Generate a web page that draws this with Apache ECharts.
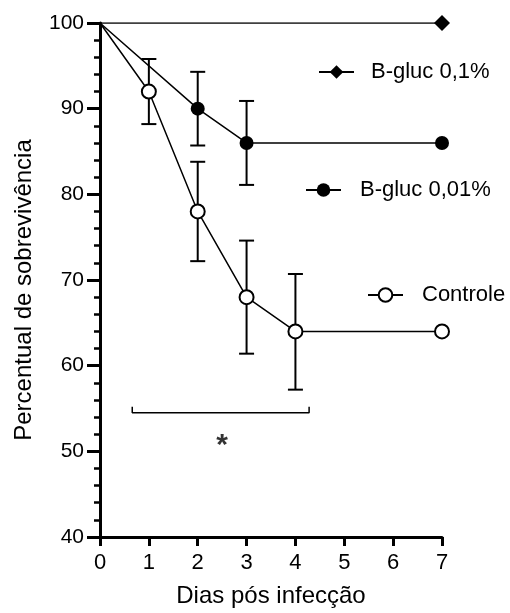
<!DOCTYPE html>
<html>
<head>
<meta charset="utf-8">
<script src="https://cdn.jsdelivr.net/npm/echarts@6/dist/echarts.min.js"></script>
<style>
  html, body { margin: 0; padding: 0; background: #fff; }
  #chart { width: 510px; height: 613px; }
</style>
</head>
<body>
<div id="chart"></div>
<script>
  'use strict';

  // Dias pós infecção
  const dias01 = [0, 7];
  const surv01 = [100, 100];

  const dias001 = [0, 2, 3, 7];
  const surv001 = [100, 90, 86, 86];
  const err001 = [[2, 85.7, 94.3], [3, 81.1, 90.9]];

  const diasCtrl = [0, 1, 2, 3, 4, 7];
  const survCtrl = [100, 92, 78, 68, 64, 64];
  const errCtrl = [[1, 88.2, 95.8], [2, 72.2, 83.8], [3, 61.4, 74.6], [4, 57.2, 70.7]];

  // significance bracket and star
  const bracketX = [0.66, 4.28];
  const bracketY = 54.5;
  const starPos = [2.5, 50.7];

  const FONT = "'Liberation Sans', Arial, sans-serif";
  const pairs = (xs, ys) => xs.map((x, i) => [x, ys[i]]);
  const hideFirst = (arr) => arr.map((p, i) => i === 0 ? { value: p, symbol: 'none' } : p);

  const chart = echarts.init(document.getElementById('chart'));

  function errorBar(params, api) {
    const x = api.value(0);
    const lo = api.coord([x, api.value(1)]);
    const hi = api.coord([x, api.value(2)]);
    const cap = 7.5;
    const style = { stroke: '#000', lineWidth: 2 };
    return {
      type: 'group',
      children: [
        { type: 'line', shape: { x1: lo[0], y1: lo[1], x2: hi[0], y2: hi[1] }, style },
        { type: 'line', shape: { x1: lo[0] - cap, y1: lo[1], x2: lo[0] + cap, y2: lo[1] }, style },
        { type: 'line', shape: { x1: hi[0] - cap, y1: hi[1], x2: hi[0] + cap, y2: hi[1] }, style }
      ]
    };
  }

  function legendAt(name, left, top, gap) {
    return {
      data: [name],
      left: left,
      top: top,
      itemWidth: 35,
      itemHeight: 17,
      textStyle: { fontFamily: FONT, fontSize: 22, color: '#000', padding: [0, 0, 0, gap] }
    };
  }

  const lineStyle = { color: '#000', width: 1.5 };

  chart.setOption({
    animation: false,
    backgroundColor: '#fff',
    grid: { left: 100, right: 68, top: 23, bottom: 75 },
    legend: [
      legendAt('B-gluc 0,1%', 313, 56, 12),
      legendAt('B-gluc 0,01%', 300, 174, 14),
      legendAt('Controle', 362, 279, 14)
    ],
    xAxis: {
      type: 'value',
      min: 0,
      max: 7,
      interval: 1,
      name: 'Dias pós infecção',
      nameLocation: 'middle',
      nameGap: 47,
      nameTextStyle: { fontFamily: FONT, fontSize: 24, color: '#000' },
      axisLine: { onZero: false, lineStyle: { color: '#000', width: 3 } },
      axisTick: { length: 9, lineStyle: { color: '#000', width: 3 } },
      axisLabel: { fontFamily: FONT, fontSize: 22, color: '#000', margin: 15 },
      splitLine: { show: false }
    },
    yAxis: {
      type: 'value',
      min: 40,
      max: 100,
      interval: 10,
      name: 'Percentual de sobrevivência',
      nameLocation: 'middle',
      nameGap: 64,
      nameTextStyle: { fontFamily: FONT, fontSize: 24, color: '#000', padding: [0, 20, 0, 0] },
      axisLine: { show: true, onZero: false, lineStyle: { color: '#000', width: 3 } },
      axisTick: { length: 13, lineStyle: { color: '#000', width: 3 } },
      minorTick: { show: true, splitNumber: 5, length: 6, lineStyle: { color: '#000', width: 2.5 } },
      axisLabel: { fontFamily: FONT, fontSize: 21, color: '#000', margin: 16 },
      splitLine: { show: false }
    },
    series: [
      {
        type: 'custom',
        name: 'err-ctrl',
        renderItem: errorBar,
        data: errCtrl,
        z: 1,
        silent: true
      },
      {
        type: 'custom',
        name: 'err-001',
        renderItem: errorBar,
        data: err001,
        z: 1,
        silent: true
      },
      {
        type: 'line',
        name: 'B-gluc 0,1%',
        data: hideFirst(pairs(dias01, surv01)),
        symbol: 'diamond',
        symbolSize: 16,
        lineStyle: lineStyle,
        itemStyle: { color: '#000' },
        z: 3
      },
      {
        type: 'line',
        name: 'B-gluc 0,01%',
        data: hideFirst(pairs(dias001, surv001)),
        symbol: 'circle',
        symbolSize: 14,
        lineStyle: lineStyle,
        itemStyle: { color: '#000' },
        z: 3
      },
      {
        type: 'line',
        name: 'Controle',
        data: hideFirst(pairs(diasCtrl, survCtrl)),
        symbol: 'emptyCircle',
        symbolSize: 14,
        lineStyle: lineStyle,
        itemStyle: { color: '#000', borderColor: '#000', borderWidth: 1.5 },
        z: 4
      },
      {
        type: 'line',
        name: 'bracket',
        data: [
          [bracketX[0], bracketY + 0.7],
          [bracketX[0], bracketY],
          [bracketX[1], bracketY],
          [bracketX[1], bracketY + 0.7]
        ],
        symbol: 'none',
        lineStyle: { color: '#000', width: 1.5 },
        silent: true
      },
      {
        type: 'scatter',
        name: 'star',
        data: [starPos],
        symbolSize: 0,
        silent: true,
        label: {
          show: true,
          position: 'inside',
          formatter: '*',
          fontFamily: FONT,
          fontSize: 30,
          fontWeight: 'bold',
          color: '#000'
        }
      }
    ]
  });
</script>
</body>
</html>
